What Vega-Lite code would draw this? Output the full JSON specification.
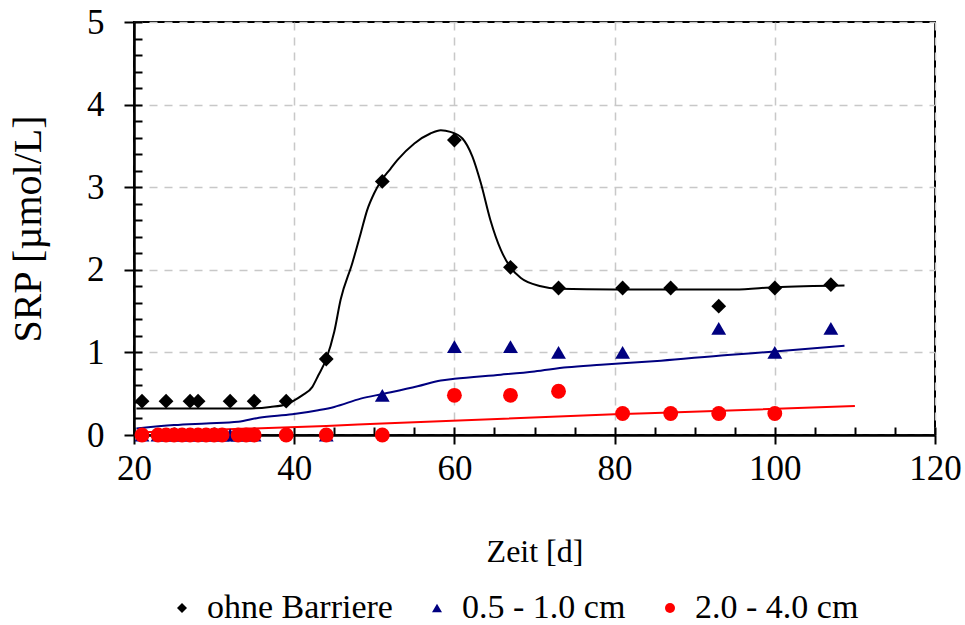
{
  "$schema": "https://vega.github.io/schema/vega-lite/v6.json",
  "autosize": "none",
  "width": 801,
  "height": 413,
  "padding": {"left": 134, "top": 22, "right": 30, "bottom": 190},
  "background": "white",
  "config": {
    "view": {"stroke": "black", "strokeWidth": 2},
    "font": "Liberation Serif",
    "axis": {"labelFont": "Liberation Serif", "titleFont": "Liberation Serif", "labelColor": "black", "titleColor": "black", "titleFontWeight": "normal"},
    "legend": {"orient": "none", "legendX": 31, "legendY": 569, "direction": "horizontal", "labelFont": "Liberation Serif", "labelFontSize": 34, "labelColor": "black", "symbolSize": 100, "labelOffset": 8, "columnPadding": 27, "labelLimit": 400, "symbolStrokeWidth": 0}
  },
  "datasets": {
    "pts": [
      {"t": 21, "srp": 0.41, "series": "ohne Barriere"},
      {"t": 24, "srp": 0.41, "series": "ohne Barriere"},
      {"t": 27, "srp": 0.41, "series": "ohne Barriere"},
      {"t": 28, "srp": 0.41, "series": "ohne Barriere"},
      {"t": 32, "srp": 0.41, "series": "ohne Barriere"},
      {"t": 35, "srp": 0.41, "series": "ohne Barriere"},
      {"t": 39, "srp": 0.41, "series": "ohne Barriere"},
      {"t": 44, "srp": 0.92, "series": "ohne Barriere"},
      {"t": 51, "srp": 3.07, "series": "ohne Barriere"},
      {"t": 60, "srp": 3.57, "series": "ohne Barriere"},
      {"t": 67, "srp": 2.03, "series": "ohne Barriere"},
      {"t": 73, "srp": 1.78, "series": "ohne Barriere"},
      {"t": 81, "srp": 1.78, "series": "ohne Barriere"},
      {"t": 87, "srp": 1.78, "series": "ohne Barriere"},
      {"t": 93, "srp": 1.56, "series": "ohne Barriere"},
      {"t": 100, "srp": 1.78, "series": "ohne Barriere"},
      {"t": 107, "srp": 1.82, "series": "ohne Barriere"},
      {"t": 21, "srp": 0, "series": "0.5 - 1.0 cm"},
      {"t": 23, "srp": 0, "series": "0.5 - 1.0 cm"},
      {"t": 24, "srp": 0, "series": "0.5 - 1.0 cm"},
      {"t": 25, "srp": 0, "series": "0.5 - 1.0 cm"},
      {"t": 26, "srp": 0, "series": "0.5 - 1.0 cm"},
      {"t": 27, "srp": 0, "series": "0.5 - 1.0 cm"},
      {"t": 28, "srp": 0, "series": "0.5 - 1.0 cm"},
      {"t": 29, "srp": 0, "series": "0.5 - 1.0 cm"},
      {"t": 30, "srp": 0, "series": "0.5 - 1.0 cm"},
      {"t": 31, "srp": 0, "series": "0.5 - 1.0 cm"},
      {"t": 32, "srp": 0, "series": "0.5 - 1.0 cm"},
      {"t": 33, "srp": 0, "series": "0.5 - 1.0 cm"},
      {"t": 34, "srp": 0, "series": "0.5 - 1.0 cm"},
      {"t": 35, "srp": 0, "series": "0.5 - 1.0 cm"},
      {"t": 44, "srp": 0, "series": "0.5 - 1.0 cm"},
      {"t": 51, "srp": 0.48, "series": "0.5 - 1.0 cm"},
      {"t": 60, "srp": 1.07, "series": "0.5 - 1.0 cm"},
      {"t": 67, "srp": 1.07, "series": "0.5 - 1.0 cm"},
      {"t": 73, "srp": 1.0, "series": "0.5 - 1.0 cm"},
      {"t": 81, "srp": 1.0, "series": "0.5 - 1.0 cm"},
      {"t": 93, "srp": 1.29, "series": "0.5 - 1.0 cm"},
      {"t": 100, "srp": 1.0, "series": "0.5 - 1.0 cm"},
      {"t": 107, "srp": 1.29, "series": "0.5 - 1.0 cm"},
      {"t": 21, "srp": 0, "series": "2.0 - 4.0 cm"},
      {"t": 23, "srp": 0, "series": "2.0 - 4.0 cm"},
      {"t": 24, "srp": 0, "series": "2.0 - 4.0 cm"},
      {"t": 25, "srp": 0, "series": "2.0 - 4.0 cm"},
      {"t": 26, "srp": 0, "series": "2.0 - 4.0 cm"},
      {"t": 27, "srp": 0, "series": "2.0 - 4.0 cm"},
      {"t": 28, "srp": 0, "series": "2.0 - 4.0 cm"},
      {"t": 29, "srp": 0, "series": "2.0 - 4.0 cm"},
      {"t": 30, "srp": 0, "series": "2.0 - 4.0 cm"},
      {"t": 31, "srp": 0, "series": "2.0 - 4.0 cm"},
      {"t": 33, "srp": 0, "series": "2.0 - 4.0 cm"},
      {"t": 34, "srp": 0, "series": "2.0 - 4.0 cm"},
      {"t": 35, "srp": 0, "series": "2.0 - 4.0 cm"},
      {"t": 39, "srp": 0, "series": "2.0 - 4.0 cm"},
      {"t": 44, "srp": 0, "series": "2.0 - 4.0 cm"},
      {"t": 51, "srp": 0, "series": "2.0 - 4.0 cm"},
      {"t": 60, "srp": 0.48, "series": "2.0 - 4.0 cm"},
      {"t": 67, "srp": 0.48, "series": "2.0 - 4.0 cm"},
      {"t": 73, "srp": 0.53, "series": "2.0 - 4.0 cm"},
      {"t": 81, "srp": 0.26, "series": "2.0 - 4.0 cm"},
      {"t": 87, "srp": 0.26, "series": "2.0 - 4.0 cm"},
      {"t": 93, "srp": 0.26, "series": "2.0 - 4.0 cm"},
      {"t": 100, "srp": 0.26, "series": "2.0 - 4.0 cm"}
    ],
    "fit": [
      {"t": 20.3, "srp": 0.32, "series": "ohne Barriere"},
      {"t": 25, "srp": 0.32, "series": "ohne Barriere"},
      {"t": 30, "srp": 0.32, "series": "ohne Barriere"},
      {"t": 34, "srp": 0.32, "series": "ohne Barriere"},
      {"t": 37, "srp": 0.34, "series": "ohne Barriere"},
      {"t": 39, "srp": 0.37, "series": "ohne Barriere"},
      {"t": 40, "srp": 0.42, "series": "ohne Barriere"},
      {"t": 41, "srp": 0.48, "series": "ohne Barriere"},
      {"t": 42.25, "srp": 0.58, "series": "ohne Barriere"},
      {"t": 43, "srp": 0.72, "series": "ohne Barriere"},
      {"t": 44, "srp": 0.92, "series": "ohne Barriere"},
      {"t": 45, "srp": 1.25, "series": "ohne Barriere"},
      {"t": 45.8, "srp": 1.64, "series": "ohne Barriere"},
      {"t": 47.25, "srp": 2.08, "series": "ohne Barriere"},
      {"t": 48.3, "srp": 2.44, "series": "ohne Barriere"},
      {"t": 49.1, "srp": 2.72, "series": "ohne Barriere"},
      {"t": 50, "srp": 2.93, "series": "ohne Barriere"},
      {"t": 50.8, "srp": 3.07, "series": "ohne Barriere"},
      {"t": 52, "srp": 3.22, "series": "ohne Barriere"},
      {"t": 52.9, "srp": 3.33, "series": "ohne Barriere"},
      {"t": 55, "srp": 3.53, "series": "ohne Barriere"},
      {"t": 57, "srp": 3.65, "series": "ohne Barriere"},
      {"t": 58.3, "srp": 3.69, "series": "ohne Barriere"},
      {"t": 59.5, "srp": 3.67, "series": "ohne Barriere"},
      {"t": 61, "srp": 3.59, "series": "ohne Barriere"},
      {"t": 62.25, "srp": 3.37, "series": "ohne Barriere"},
      {"t": 63.3, "srp": 3.05, "series": "ohne Barriere"},
      {"t": 64.5, "srp": 2.6, "series": "ohne Barriere"},
      {"t": 65.8, "srp": 2.24, "series": "ohne Barriere"},
      {"t": 67, "srp": 2.03, "series": "ohne Barriere"},
      {"t": 68.3, "srp": 1.9, "series": "ohne Barriere"},
      {"t": 70.8, "srp": 1.8, "series": "ohne Barriere"},
      {"t": 73, "srp": 1.77, "series": "ohne Barriere"},
      {"t": 80, "srp": 1.76, "series": "ohne Barriere"},
      {"t": 90, "srp": 1.76, "series": "ohne Barriere"},
      {"t": 95, "srp": 1.76, "series": "ohne Barriere"},
      {"t": 100, "srp": 1.79, "series": "ohne Barriere"},
      {"t": 108.7, "srp": 1.81, "series": "ohne Barriere"},
      {"t": 20.3, "srp": 0.08, "series": "0.5 - 1.0 cm"},
      {"t": 25, "srp": 0.12, "series": "0.5 - 1.0 cm"},
      {"t": 29, "srp": 0.14, "series": "0.5 - 1.0 cm"},
      {"t": 33, "srp": 0.16, "series": "0.5 - 1.0 cm"},
      {"t": 35.6, "srp": 0.21, "series": "0.5 - 1.0 cm"},
      {"t": 39.75, "srp": 0.25, "series": "0.5 - 1.0 cm"},
      {"t": 43, "srp": 0.3, "series": "0.5 - 1.0 cm"},
      {"t": 45, "srp": 0.34, "series": "0.5 - 1.0 cm"},
      {"t": 48.3, "srp": 0.44, "series": "0.5 - 1.0 cm"},
      {"t": 51.2, "srp": 0.5, "series": "0.5 - 1.0 cm"},
      {"t": 55.4, "srp": 0.59, "series": "0.5 - 1.0 cm"},
      {"t": 58.3, "srp": 0.66, "series": "0.5 - 1.0 cm"},
      {"t": 60, "srp": 0.68, "series": "0.5 - 1.0 cm"},
      {"t": 65.8, "srp": 0.73, "series": "0.5 - 1.0 cm"},
      {"t": 70, "srp": 0.77, "series": "0.5 - 1.0 cm"},
      {"t": 74.1, "srp": 0.82, "series": "0.5 - 1.0 cm"},
      {"t": 78.3, "srp": 0.85, "series": "0.5 - 1.0 cm"},
      {"t": 85.8, "srp": 0.9, "series": "0.5 - 1.0 cm"},
      {"t": 94.1, "srp": 0.97, "series": "0.5 - 1.0 cm"},
      {"t": 100, "srp": 1.01, "series": "0.5 - 1.0 cm"},
      {"t": 108.7, "srp": 1.08, "series": "0.5 - 1.0 cm"},
      {"t": 20.3, "srp": 0.03, "series": "2.0 - 4.0 cm"},
      {"t": 44, "srp": 0.11, "series": "2.0 - 4.0 cm"},
      {"t": 51, "srp": 0.14, "series": "2.0 - 4.0 cm"},
      {"t": 80, "srp": 0.25, "series": "2.0 - 4.0 cm"},
      {"t": 86, "srp": 0.27, "series": "2.0 - 4.0 cm"},
      {"t": 110, "srp": 0.35, "series": "2.0 - 4.0 cm"}
    ]
  },
  "layer": [
    {
      "data": {"name": "fit"},
      "mark": {"type": "line", "interpolate": "monotone", "strokeWidth": 2},
      "encoding": {
        "x": {"field": "t", "type": "quantitative",
          "scale": {"domain": [20, 120], "nice": false, "zero": false},
          "axis": {"orient": "bottom", "values": [20, 40, 60, 80, 100, 120], "title": "Zeit [d]",
            "titleFontSize": 32, "titlePadding": 50, "labelFontSize": 35, "labelPadding": 7,
            "tickSize": 9, "tickWidth": 2, "tickColor": "black", "domainColor": "black", "domainWidth": 2.5,
            "grid": true, "gridColor": "#c8c8c8", "gridDash": [8, 7], "gridWidth": 1.5, "labelFlush": false}},
        "y": {"field": "srp", "type": "quantitative",
          "scale": {"domain": [0, 5], "nice": false},
          "axis": {"orient": "left", "values": [0, 1, 2, 3, 4, 5], "title": "SRP [µmol/L]",
            "titleFontSize": 40, "titlePadding": 38, "labelFontSize": 35, "labelPadding": 20,
            "tickSize": 10, "tickWidth": 2, "tickColor": "black", "domainColor": "black", "domainWidth": 2.5,
            "grid": true, "gridColor": "#c8c8c8", "gridDash": [8, 7], "gridWidth": 1.5, "labelFlush": false}},
        "color": {"field": "series", "type": "nominal",
          "scale": {"domain": ["ohne Barriere", "0.5 - 1.0 cm", "2.0 - 4.0 cm"], "range": ["#000000", "#000080", "#ff0000"]},
          "legend": {"title": null}},
        "detail": {"field": "series"}
      }
    },
    {
      "data": {"name": "pts"},
      "mark": {"type": "point", "filled": true, "opacity": 1, "size": 220},
      "encoding": {
        "x": {"field": "t", "type": "quantitative",
          "axis": {"orient": "bottom", "values": [20,25,30,35,40,45,50,55,60,65,70,75,80,85,90,95,100,105,110,115,120],
            "labels": false, "domain": false, "grid": false, "title": null,
            "tickSize": -8, "tickWidth": 2, "tickColor": "black"}},
        "y": {"field": "srp", "type": "quantitative",
          "axis": {"orient": "left", "values": [0,0.2,0.4,0.6,0.8,1,1.2,1.4,1.6,1.8,2,2.2,2.4,2.6,2.8,3,3.2,3.4,3.6,3.8,4,4.2,4.4,4.6,4.8,5],
            "labels": false, "domain": false, "grid": false, "title": null,
            "tickSize": -8, "tickWidth": 2, "tickColor": "black"}},
        "color": {"field": "series", "type": "nominal", "legend": {"title": null}},
        "shape": {"field": "series", "type": "nominal",
          "scale": {"domain": ["ohne Barriere", "0.5 - 1.0 cm", "2.0 - 4.0 cm"], "range": ["diamond", "triangle-up", "circle"]},
          "legend": {"title": null}}
      }
    }
  ],
  "resolve": {"axis": {"x": "independent", "y": "independent"}}
}
